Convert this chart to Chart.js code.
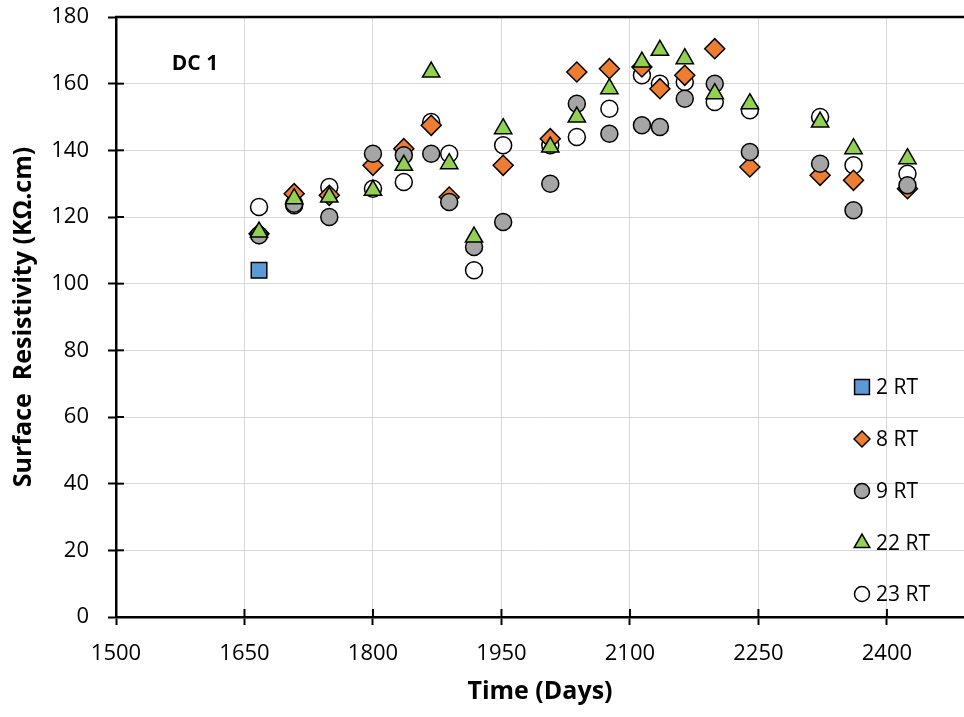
<!DOCTYPE html>
<html><head><meta charset="utf-8">
<script src="https://cdn.jsdelivr.net/npm/chart.js@4.4.0/dist/chart.umd.min.js"></script>
<style>html,body{margin:0;padding:0;background:#fff;overflow:hidden}#wrap{width:964px;height:717px}</style>
</head><body><div id="wrap"><canvas id="c" width="964" height="717"></canvas></div>
<script>
const days = [1667,1708,1749,1800,1836,1868,1889,1918,1952,2007,2038,2076,2114,2135,2164,2199,2240,2322,2361,2424];
const rt2  = [104,null,null,null,null,null,null,null,null,null,null,null,null,null,null,null,null,null,null,null];
const rt8  = [115,127,126.5,135.5,140.5,147.5,126,null,135.5,143.5,163.5,164.5,165,158.5,162.5,170.5,135,132.5,131,128.5];
const rt9  = [114.5,124,120,139,138.5,139,124.5,111,118.5,130,154,145,147.5,147,155.5,160,139.5,136,122,129.5];
const rt22 = [115.5,125.5,126,128,135.5,163.5,136,114,146.5,141,150,158.5,166.5,170,167.5,157,154,148.5,140.5,137.5];
const rt23 = [123,123.5,129,128.5,130.5,148.5,139,104,141.5,141.5,144,152.5,162.5,160,160.5,154.5,152,150,135.5,133];
const seriesNames = ['2 RT','8 RT','9 RT','22 RT','23 RT'];
const xTickStart = 1500, xTickStep = 150, xTickEnd = 2400;
const yTickStep = 20;

function pts(arr){ return days.map((d,i)=>({x:d,y:arr[i]})).filter(p=>p.y!==null); }

const styles = [
  {data:rt2, pointStyle:'rect', bg:'#5B9BD5', r:11, order:3, lr:10.5},
  {data:rt8, pointStyle:'rectRot', bg:'#ED7D31', r:10, order:2, lr:8},
  {data:rt9, pointStyle:'circle', bg:'#A5A5A5', r:8.5, order:1, lr:7.5},
  {data:rt22, pointStyle:'triangle', bg:'#92D050', r:10, order:0, lr:9},
  {data:rt23, pointStyle:'circle', bg:'#FFFFFF', r:8.5, order:4, lr:7.5}
];

const datasets = styles.map((s,i)=>({
  label: seriesNames[i], data: pts(s.data), pointStyle: s.pointStyle,
  backgroundColor: s.bg, borderColor:'#000', borderWidth:1.5,
  pointRadius: s.r, pointHoverRadius: s.r, order: s.order, showLine:false
}));

function noPad(sc){
  sc._calculatePadding = function(){ this.paddingLeft = 0; this.paddingRight = 0; this.paddingTop = 0; this.paddingBottom = 0; };
}

const decor = {
  id:'decor',
  afterDraw(chart){
    const ctx = chart.ctx, a = chart.chartArea;
    const xs = chart.scales.x, ys = chart.scales.y;
    ctx.save();
    ctx.strokeStyle = '#000'; ctx.lineWidth = 2.5;
    ctx.beginPath(); ctx.moveTo(a.left-1, a.top); ctx.lineTo(a.right, a.top); ctx.stroke();
    ctx.lineWidth = 2;
    xs.ticks.forEach(t=>{ const px = xs.getPixelForValue(t.value); ctx.beginPath(); ctx.moveTo(px,a.bottom); ctx.lineTo(px,a.bottom-8); ctx.stroke(); });
    ys.ticks.forEach(t=>{ const py = ys.getPixelForValue(t.value); ctx.beginPath(); ctx.moveTo(a.left,py); ctx.lineTo(a.left+8,py); ctx.stroke(); });
    ctx.fillStyle = '#000'; ctx.font = 'bold 21px "Open Sans", sans-serif';
    ctx.textAlign = 'center'; ctx.textBaseline = 'middle';
    ctx.fillText('DC 1', 195, 64);
    const ly = [387, 439, 491, 543, 594];
    ctx.font = '21px "Open Sans", sans-serif'; ctx.textAlign = 'left';
    styles.forEach((s,i)=>{
      ctx.fillStyle = s.bg; ctx.strokeStyle = '#000'; ctx.lineWidth = 1.5;
      Chart.helpers.drawPoint(ctx, {pointStyle:s.pointStyle, radius:s.lr, borderWidth:1.5, rotation:0}, 862, ly[i]);
      ctx.fillStyle = '#000';
      ctx.fillText(seriesNames[i], 876, ly[i]+1);
    });
    ctx.restore();
  }
};

new Chart(document.getElementById('c'), {
  type:'scatter',
  data:{datasets},
  options:{
    responsive:false, animation:false, devicePixelRatio:1,
    layout:{autoPadding:false, padding:{top:17,right:0,left:0,bottom:0}},
    plugins:{legend:{display:false}, tooltip:{enabled:false}},
    scales:{
      x:{type:'linear', position:'bottom', min:1500, max:2490,
        afterBuildTicks(sc){ const t=[]; for(let v=xTickStart; v<=xTickEnd; v+=xTickStep) t.push({value:v}); sc.ticks=t; },
        beforeFit(sc){ noPad(sc); },
        afterFit(sc){ sc.height = 100; },
        ticks:{color:'#000', font:{family:'"Open Sans", sans-serif', size:22}, padding:16, maxRotation:0, callback:v=>String(v)},
        grid:{color:'#d9d9d9', lineWidth:1, tickColor:'#000', tickLength:8, tickWidth:2},
        border:{color:'#000', width:2.5},
        title:{display:true, text:'Time (Days)', color:'#000', font:{family:'"Open Sans", sans-serif', size:25, weight:'bold'}, padding:{top:0,bottom:10}}
      },
      y:{min:0, max:180,
        ticks:{stepSize:yTickStep, color:'#000', font:{family:'"Open Sans", sans-serif', size:22}, padding:19, callback:v=>String(v)},
        beforeFit(sc){ noPad(sc); },
        afterFit(sc){ sc.width = 116; },
        grid:{color:'#d9d9d9', lineWidth:1, tickColor:'#000', tickLength:8, tickWidth:2},
        border:{color:'#000', width:2.5},
        title:{display:true, text:'Surface  Resistivity (KΩ.cm)', color:'#000', font:{family:'"Open Sans", sans-serif', size:25, weight:'bold'}, padding:{top:9,bottom:0}}
      }
    }
  },
  plugins:[decor]
});
</script></body></html>
